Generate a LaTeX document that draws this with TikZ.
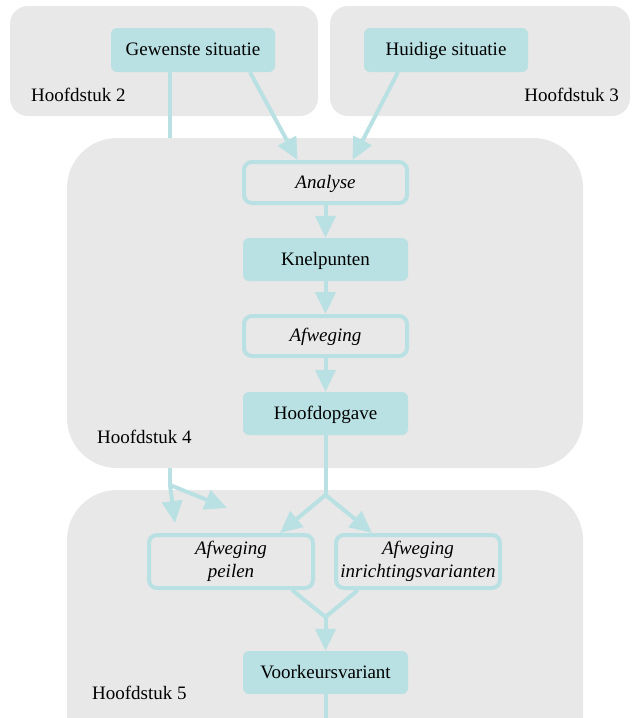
\documentclass[tikz,border=0pt]{standalone}
\usepackage{fontspec}
\setmainfont{Liberation Serif}
\usetikzlibrary{arrows.meta}
\definecolor{teal1}{RGB}{185,224,227}
\definecolor{gray1}{RGB}{232,232,232}
\tikzset{
  cluster/.style={fill=gray1, draw=none},
  boxbase/.style={inner sep=0pt, align=center, font=\fontsize{19}{23}\selectfont},
  oneline/.style={text height=14pt, text depth=3pt},
  filledbox/.style={boxbase, oneline, fill=teal1, draw=none, rounded corners=6pt, minimum width=165pt, minimum height=43pt},
  outlinebox/.style={boxbase, oneline, fill=gray1, draw=teal1, line width=4pt, rounded corners=8pt, minimum width=163pt, minimum height=41pt, font=\fontsize{19}{23}\selectfont\itshape},
  twolinebox/.style={boxbase, fill=gray1, draw=teal1, line width=4pt, rounded corners=8pt, minimum width=164pt, minimum height=53pt, font=\fontsize{19}{23}\selectfont\itshape},
  lbl/.style={inner sep=0pt, font=\fontsize{19}{23}\selectfont},
  conn/.style={draw=teal1, line width=4pt},
  arr/.style={conn, -{Triangle[length=22pt,width=20pt]}}
}
\begin{document}
\begin{tikzpicture}[x=1pt,y=-1pt]
\useasboundingbox (0,0) rectangle (633,718);
\clip (0,0) rectangle (633,718);
% clusters top
\fill[cluster, rounded corners=18pt] (10,6) rectangle (318,116);
\fill[cluster, rounded corners=18pt] (330,6) rectangle (630,116);
\node[lbl, anchor=west] (h2) at (31,95) {Hoofdstuk 2};
\node[lbl, anchor=east] (h3) at (619,95) {Hoofdstuk 3};
% top nodes
\node[filledbox, minimum width=164pt, minimum height=44pt] (gew) at (193,50) {Gewenste situatie};
\node[filledbox, minimum width=164pt, minimum height=44pt] (hui) at (446,50) {Huidige situatie};
% long line from Gewenste behind cluster 4
\coordinate (b1) at (170,485);
\draw[conn] ([xshift=-23pt]gew.south) -- (b1);
% cluster 4 and 5
\fill[cluster, rounded corners=50pt] (67,138) rectangle (583,468);
\fill[cluster, rounded corners=50pt] (67,490) rectangle (583,780);
\node[lbl, anchor=west] (h4) at (97,437) {Hoofdstuk 4};
\node[lbl, anchor=west] (h5) at (92,693) {Hoofdstuk 5};
% branch arrows from b1
\coordinate (t1) at (175,523);
\coordinate (t2) at (227,508);
\draw[arr] (b1) -- (t1);
\draw[arr] (b1) -- (t2);
% main nodes
\node[outlinebox] (ana) at (325.5,182.5) {Analyse};
\node[filledbox] (kne) at (325.5,259.5) {Knelpunten};
\node[outlinebox, minimum height=40pt] (afw) at (325.5,336) {Afweging};
\node[filledbox] (hoo) at (325.5,413.5) {Hoofdopgave};
\node[twolinebox] (pei) at (231,561.5) {Afweging\\peilen};
\node[twolinebox] (inr) at (418,561.5) {Afweging\\inrichtingsvarianten};
\node[filledbox] (vk) at (325.5,672.5) {Voorkeursvariant};
% connectors
\draw[arr] ([xshift=57pt]gew.south) -- ([xshift=-28pt]ana.north);
\draw[arr] ([xshift=-48pt]hui.south) -- ([xshift=27pt]ana.north);
\draw[arr] (ana) -- (kne);
\draw[arr] (kne) -- (afw);
\draw[arr] (afw) -- (hoo);
\coordinate (b2) at (325.5,495);
\draw[conn] (hoo.south) -- (b2);
\draw[arr] (b2) -- ([xshift=49pt]pei.north);
\draw[arr] (b2) -- ([xshift=-46pt]inr.north);
\coordinate (m) at (325.5,617);
\draw[conn] ([xshift=61pt]pei.south) -- (m);
\draw[conn] ([xshift=-60pt]inr.south) -- (m);
\draw[arr] (m) -- (vk.north);
\coordinate (bot) at (325.5,720);
\draw[conn] (vk.south) -- (bot);
\end{tikzpicture}
\end{document}
